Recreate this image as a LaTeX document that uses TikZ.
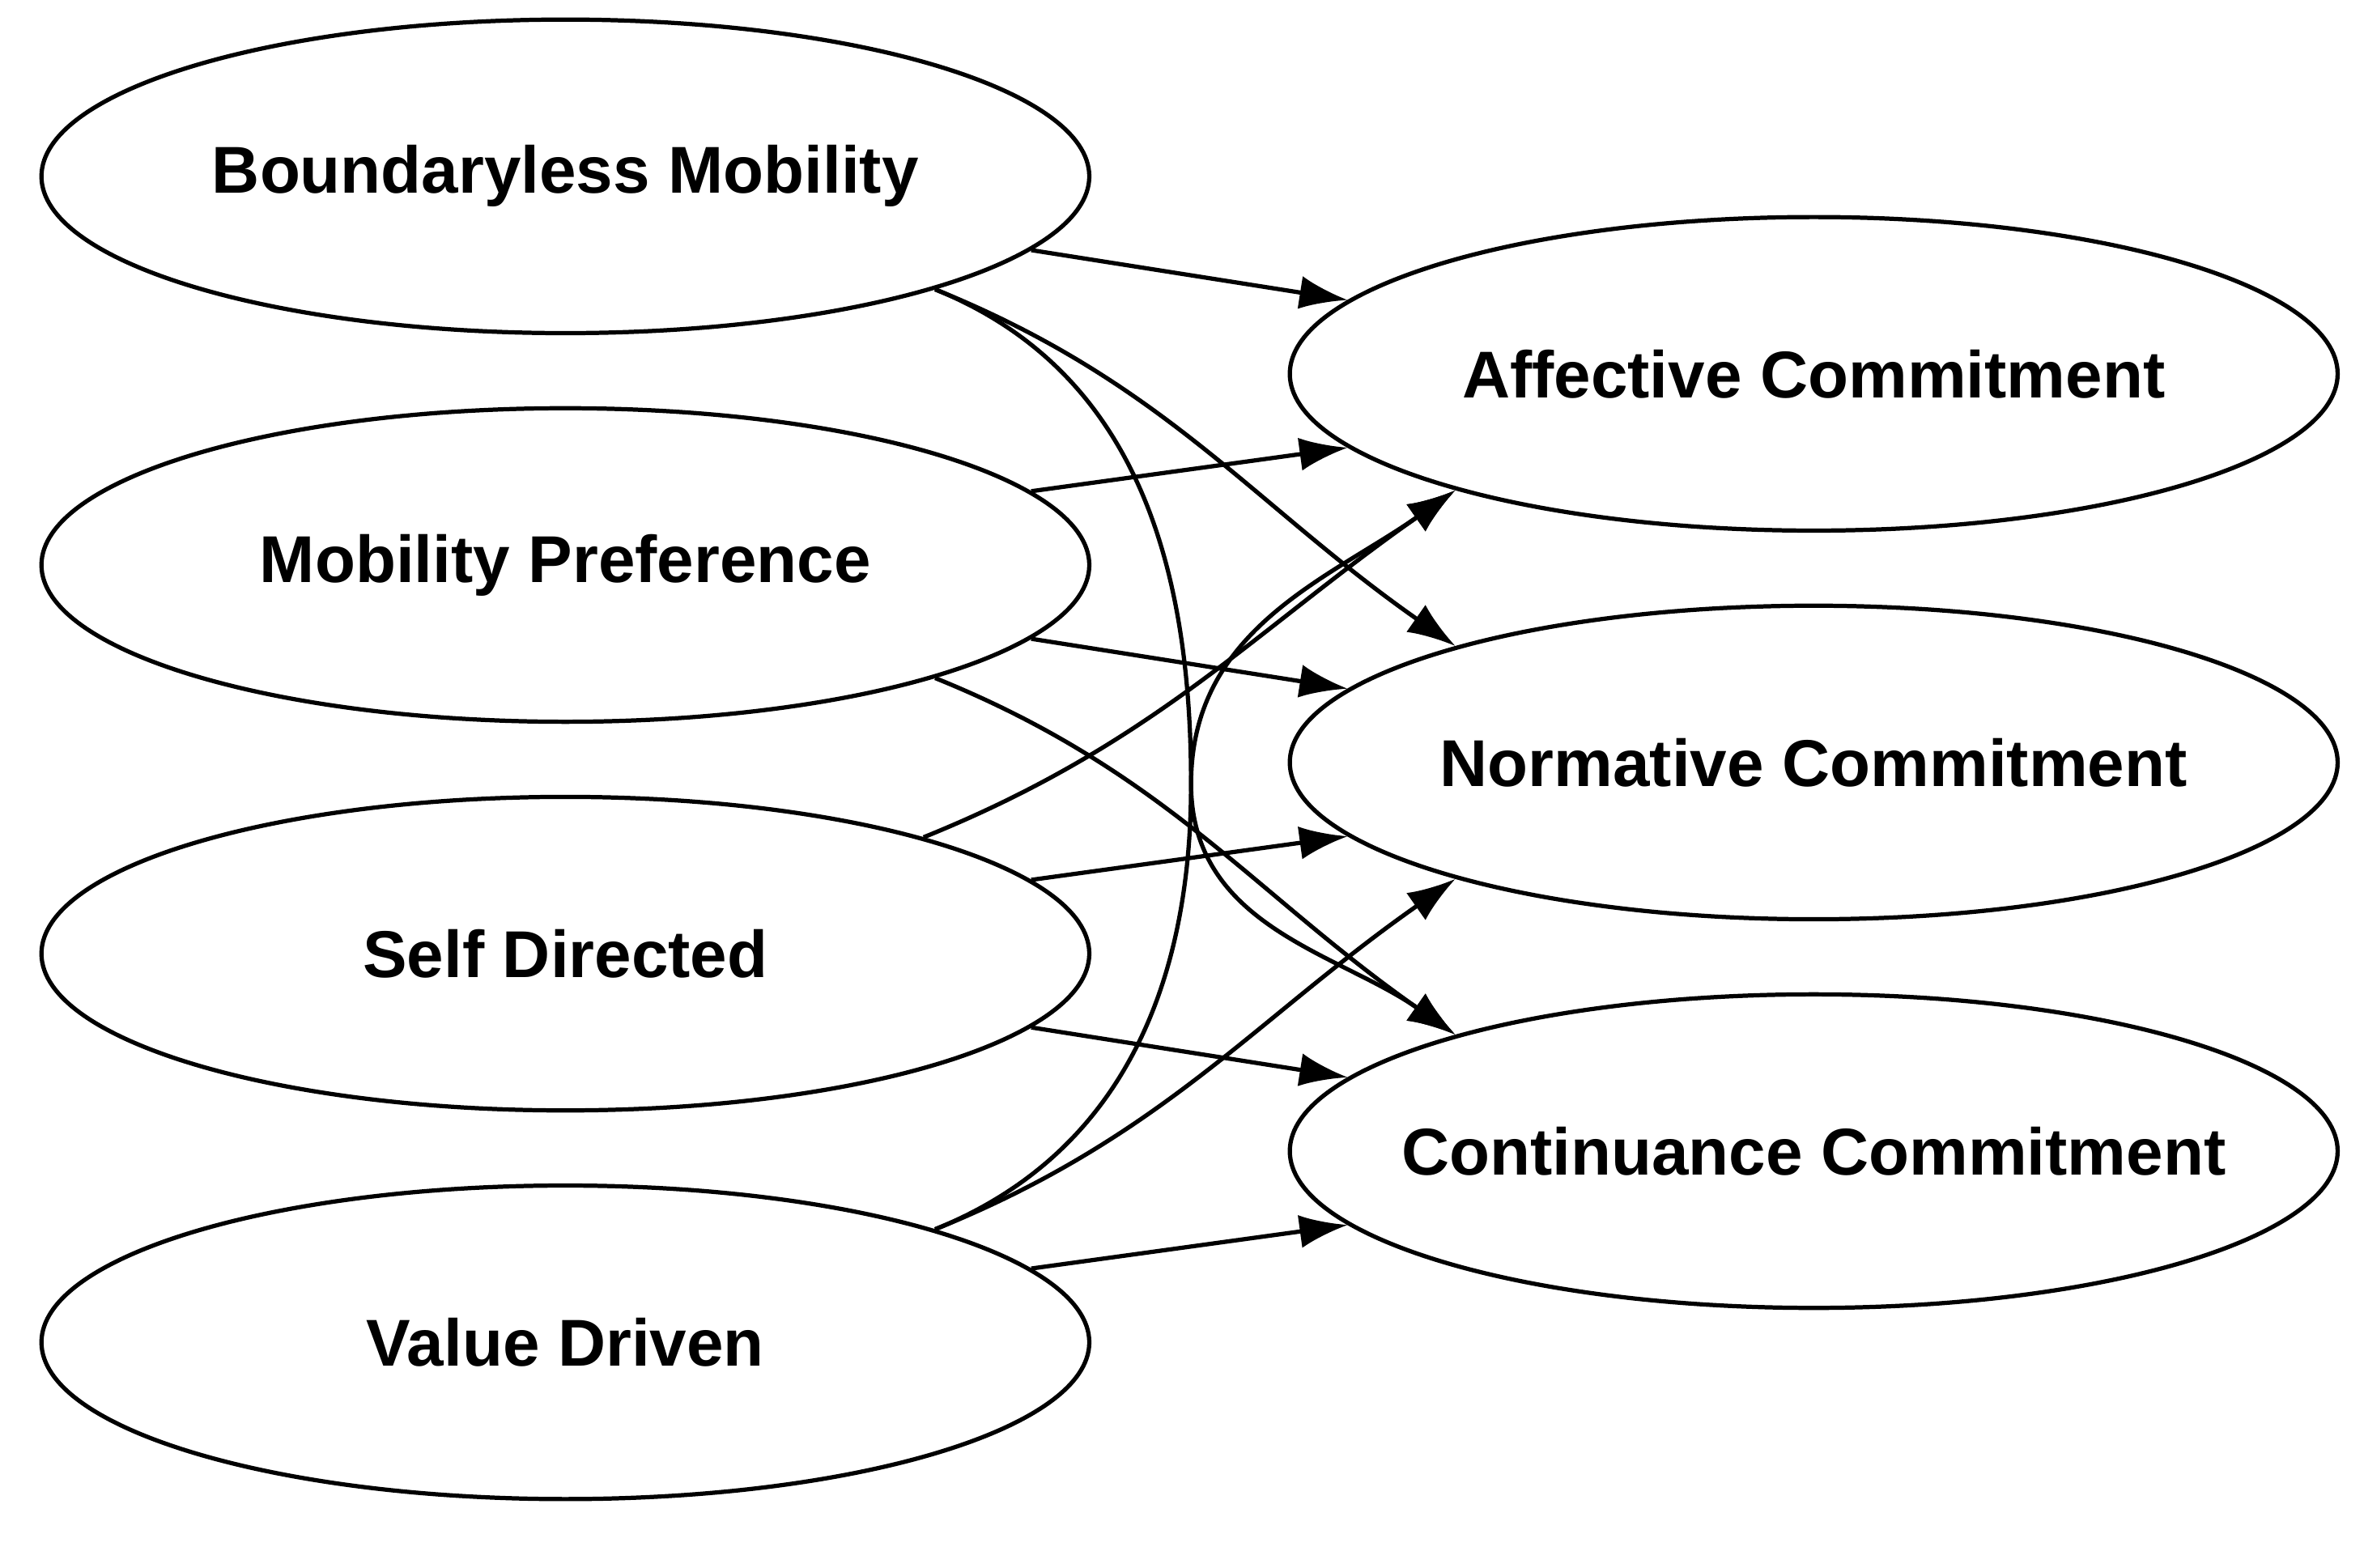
\documentclass[tikz,border=0pt]{standalone}
\usepackage{fontspec}
\setmainfont{Liberation Sans}
\usetikzlibrary{shapes.geometric, positioning, arrows.meta}
\tikzset{
	latent/.style={draw, ellipse, thick, minimum width=6.95cm, minimum height=2.08cm, inner sep=0pt,
		label={[font=\bfseries\fontsize{12.5}{15}\selectfont]center:#1}},
	path/.style={thick, black, ->, >={Latex[length=3.2mm, width=2.2mm]}}
}
\begin{document}
\begin{tikzpicture}
	\useasboundingbox (0,0) rectangle (15.68,10.4);
	\node (bm) [latent=Boundaryless Mobility] at (3.75,9.23) {};
	\node (mp) [latent=Mobility Preference, below=0.47cm of bm] {};
	\node (sd) [latent=Self Directed, below=0.47cm of mp] {};
	\node (vd) [latent=Value Driven, below=0.47cm of sd] {};
	
	\node (ac) [latent=Affective Commitment] at (12.03,7.92) {};
	\node (nc) [latent=Normative Commitment, below=0.47cm of ac] {};
	\node (cc) [latent=Continuance Commitment, below=0.47cm of nc] {};
	
	\begin{scope}[path]
		\draw (bm.-9) -- (ac.171);
		\draw (bm.-17) to[out=-22, in=145] (nc.162);
		\draw (bm.-17) to[out=-22, in=90] (7.9,5.2) to[out=-90, in=145] (cc.162);
		\draw (mp.9) -- (ac.189);
		\draw (mp.-9) -- (nc.171);
		\draw (mp.-17) to[out=-22, in=145] (cc.162);
		\draw (sd.18) to[out=22, in=-145] (ac.198);
		\draw (sd.9) -- (nc.189);
		\draw (sd.-9) -- (cc.171);
		\draw (vd.17) to[out=22, in=-90] (7.9,5.2) to[out=90, in=-145] (ac.198);
		\draw (vd.17) to[out=22, in=-145] (nc.198);
		\draw (vd.9) -- (cc.189);
	\end{scope}
\end{tikzpicture}
\end{document}
